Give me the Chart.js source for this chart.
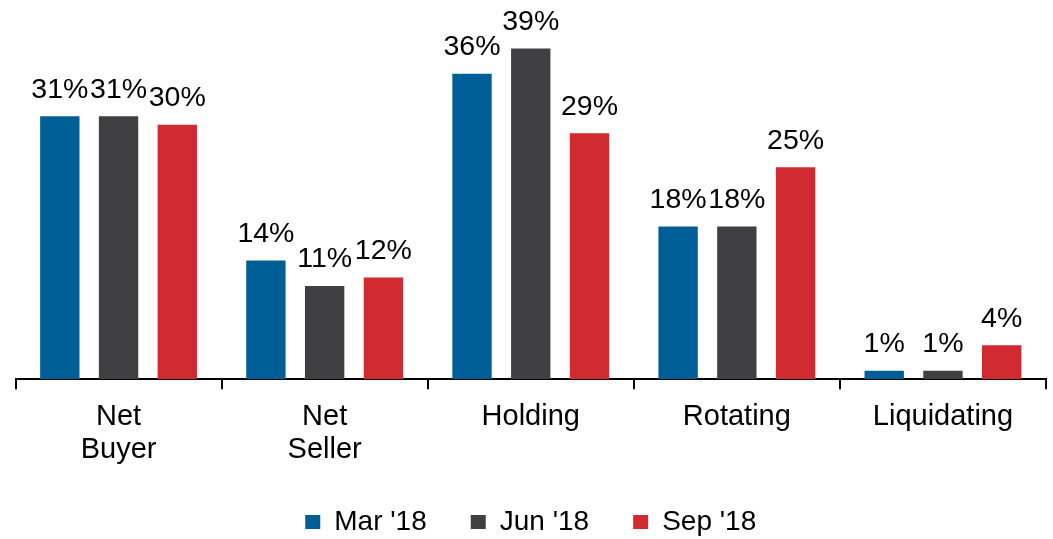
<!DOCTYPE html>
<html>
<head>
<meta charset="utf-8">
<script src="https://cdn.jsdelivr.net/npm/chart.js@4/dist/chart.umd.min.js"></script>
<style>
  html, body { margin: 0; padding: 0; background: #ffffff; }
  #wrap { width: 1053px; height: 539px; }
</style>
</head>
<body>
<div id="wrap"><canvas id="c" width="1053" height="539"></canvas></div>
<script>
const categories = [['Net', 'Buyer'], ['Net', 'Seller'], 'Holding', 'Rotating', 'Liquidating'];
const seriesNames = ["Mar '18", "Jun '18", "Sep '18"];
const marValues = [31, 14, 36, 18, 1];
const junValues = [31, 11, 39, 18, 1];
const sepValues = [30, 12, 29, 25, 4];
const seriesColors = ['#005E96', '#404042', '#D12A31'];

const FONT = "Arial, 'Liberation Sans', sans-serif";

const valueLabels = {
  id: 'valueLabels',
  afterDatasetsDraw(chart) {
    const ctx = chart.ctx;
    ctx.save();
    ctx.font = '28.5px ' + FONT;
    ctx.fillStyle = '#000000';
    ctx.textAlign = 'center';
    ctx.textBaseline = 'alphabetic';
    chart.data.datasets.forEach((ds, di) => {
      const meta = chart.getDatasetMeta(di);
      meta.data.forEach((bar, i) => {
        ctx.fillText(ds.data[i] + '%', bar.x, bar.y - 18.5);
      });
    });
    ctx.restore();
  }
};

new Chart(document.getElementById('c'), {
  type: 'bar',
  data: {
    labels: categories,
    datasets: [
      { label: seriesNames[0], data: marValues, backgroundColor: seriesColors[0] },
      { label: seriesNames[1], data: junValues, backgroundColor: seriesColors[1] },
      { label: seriesNames[2], data: sepValues, backgroundColor: seriesColors[2] }
    ]
  },
  options: {
    responsive: false,
    devicePixelRatio: 1,
    animation: false,
    categoryPercentage: 0.855,
    barPercentage: 0.67,
    layout: { padding: { left: 15.5, right: 7, top: 6, bottom: 0 } },
    plugins: {
      tooltip: { enabled: false },
      legend: {
        position: 'bottom',
        maxHeight: 75,
        labels: {
          color: '#000000',
          font: { family: FONT, size: 28 },
          boxWidth: 15,
          boxHeight: 14,
          padding: 44
        }
      }
    },
    scales: {
      y: { display: false, min: 0, max: 44 },
      x: {
        afterFit(scale) { scale.height -= 14; },
        grid: {
          offset: true,
          drawOnChartArea: false,
          drawTicks: true,
          tickLength: 10,
          color: '#000000',
          lineWidth: 2
        },
        border: { display: true, color: '#000000', width: 2 },
        ticks: {
          color: '#000000',
          font: { family: FONT, size: 29, lineHeight: 1.15 },
          padding: 11,
          maxRotation: 0,
          autoSkip: false
        }
      }
    }
  },
  plugins: [valueLabels]
});
</script>
</body>
</html>
